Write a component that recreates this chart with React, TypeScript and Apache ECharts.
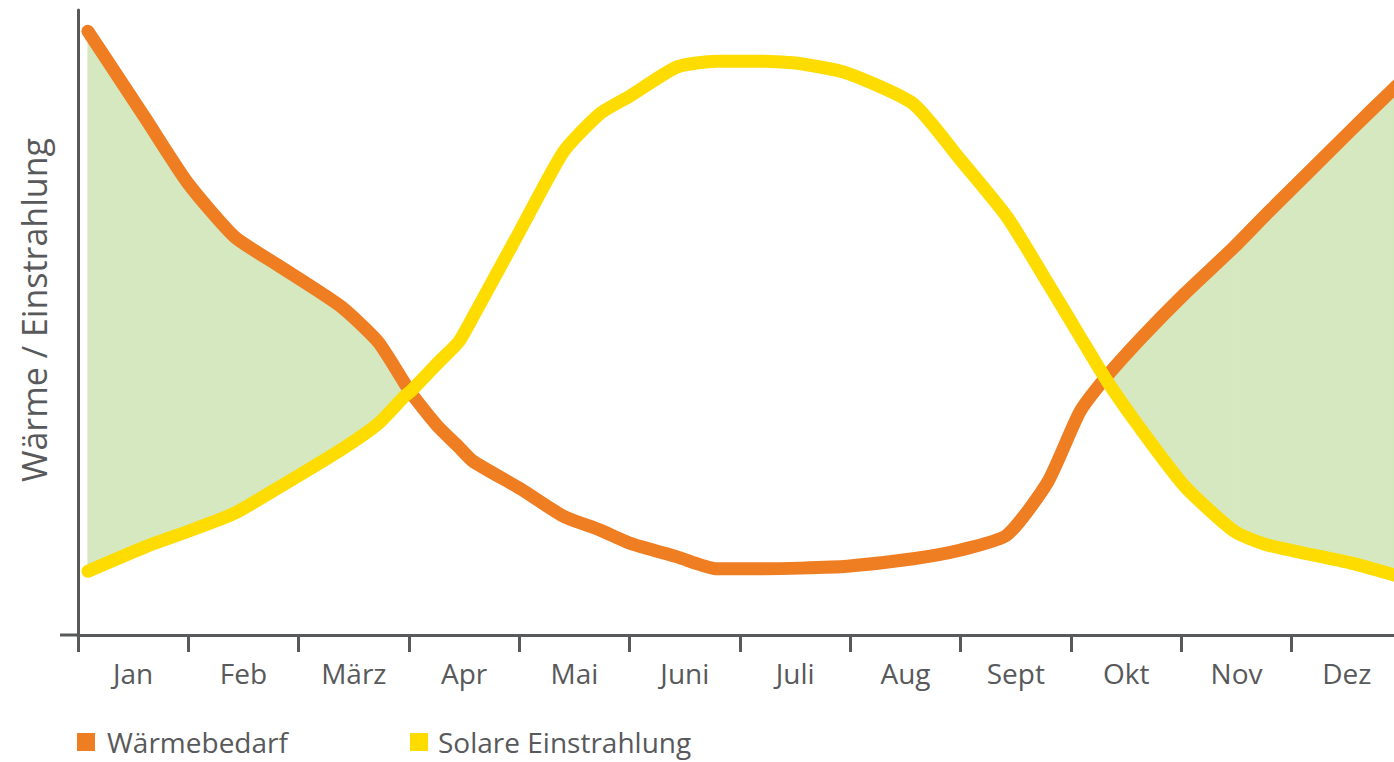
import React, { useEffect, useRef } from "react";
import * as echarts from "echarts";

const MONTHS = ["Jan", "Feb", "März", "Apr", "Mai", "Juni", "Juli", "Aug", "Sept", "Okt", "Nov", "Dez"];
const X_POS = [0.09, 0.61, 1.0, 1.42, 1.81, 2.38, 2.72, 2.96, 3.01, 3.26, 3.45, 3.58, 4.01, 4.4, 4.73, 5.0, 5.43, 5.79, 6.21, 6.55, 6.97, 7.57, 8.0, 8.42, 8.79, 9.08, 9.31, 9.63, 10.03, 10.48, 10.78, 11.54, 11.93, 12.0];
const WAERME = [96.6, 82.7, 72.2, 63.7, 59.2, 52.6, 46.9, 40.3, 38.9, 33.4, 30.1, 27.8, 23.4, 19.0, 16.8, 14.7, 12.5, 10.6, 10.6, 10.7, 11.0, 12.2, 13.6, 16.0, 24.5, 35.7, 41.1, 47.4, 54.6, 62.1, 67.5, 80.8, 87.5, 88.6];
const SOLAR = [10.2, 14.1, 16.6, 19.5, 23.5, 29.6, 33.8, 38.2, 38.9, 43.5, 46.9, 50.9, 64.8, 77.3, 83.4, 86.2, 90.9, 91.8, 91.8, 91.4, 89.9, 85.0, 76.0, 66.9, 56.3, 47.8, 41.1, 33.0, 23.8, 16.6, 14.4, 11.5, 9.6, 9.2];
const NAME_W = "Wärmebedarf";
const NAME_S = "Solare Einstrahlung";
const Y_TITLE = "Wärme / Einstrahlung";

const ORANGE = "#ef7d22";
const YELLOW = "#ffdc00";
const GREEN = "#d5e8bf";
const GRAY = "#58595b";
const FONT = "'Open Sans', 'Noto Sans', sans-serif";

export default function App() {
  const ref = useRef<HTMLDivElement>(null);
  useEffect(() => {
    if (!ref.current) return;
    const chart = echarts.init(ref.current, null, { renderer: "svg" });
    const wData = X_POS.map((x, i) => [x, WAERME[i]]);
    const sData = X_POS.map((x, i) => [x, SOLAR[i]]);
    const segs: number[][] = [];
    for (let i = 0; i < X_POS.length - 1; i++) {
      if (WAERME[i] >= SOLAR[i] && WAERME[i + 1] >= SOLAR[i + 1]) {
        segs.push([X_POS[i], WAERME[i], SOLAR[i], X_POS[i + 1], WAERME[i + 1], SOLAR[i + 1]]);
      }
    }
    const smooth = 0.2;
    chart.setOption({
      animation: false,
      textStyle: { fontFamily: FONT },
      grid: { left: 78, right: 0, top: 10, bottom: 127, containLabel: false },
      legend: [
        {
          data: [{ name: NAME_W, icon: "rect" }],
          left: 77,
          top: 728,
          padding: 0,
          itemWidth: 18,
          itemHeight: 18,
          textStyle: { fontSize: 28, color: GRAY, fontFamily: FONT, padding: [0, 0, 0, 7] },
          selectedMode: false,
        },
        {
          data: [{ name: NAME_S, icon: "rect" }],
          left: 410,
          top: 728,
          padding: 0,
          itemWidth: 18,
          itemHeight: 18,
          textStyle: { fontSize: 28, color: GRAY, fontFamily: FONT, padding: [0, 0, 0, 5] },
          selectedMode: false,
        },
      ],
      xAxis: [
        {
          type: "category",
          data: MONTHS,
          boundaryGap: true,
          axisLine: { show: true, lineStyle: { color: GRAY, width: 3 } },
          axisTick: { show: true, length: 17, lineStyle: { color: GRAY, width: 3 } },
          axisLabel: { fontSize: 28, color: GRAY, margin: 24, fontFamily: FONT },
          splitLine: { show: false },
        },
        {
          type: "value",
          min: 0,
          max: 12,
          show: false,
        },
      ],
      yAxis: {
        type: "value",
        min: 0,
        max: 100,
        axisLine: { show: true, lineStyle: { color: GRAY, width: 3 } },
        axisTick: { show: false },
        axisLabel: { show: false },
        splitLine: { show: false },
      },
      graphic: [
        {
          type: "line",
          shape: { x1: 60, y1: 635, x2: 80, y2: 635 },
          style: { stroke: GRAY, lineWidth: 3 },
        },
        {
          type: "text",
          x: 34,
          y: 310,
          rotation: Math.PI / 2,
          style: {
            text: Y_TITLE,
            fontSize: 34,
            fill: GRAY,
            fontFamily: FONT,
            align: "center",
            verticalAlign: "middle",
          },
        },
      ],
      series: [
        {
          name: "fill",
          type: "custom",
          xAxisIndex: 1,
          data: segs,
          encode: { x: [0, 3], y: [1, 2, 4, 5] },
          silent: true,
          clip: true,
          renderItem: (params: any, api: any) => {
            const a = api.coord([api.value(0), api.value(1)]);
            const b = api.coord([api.value(3), api.value(4)]);
            const c = api.coord([api.value(3), api.value(5)]);
            const d = api.coord([api.value(0), api.value(2)]);
            return {
              type: "polygon",
              shape: { points: [a, b, c, d] },
              style: { fill: GREEN, stroke: GREEN, lineWidth: 1 },
            };
          },
        },
        {
          name: NAME_W,
          type: "line",
          xAxisIndex: 1,
          data: wData,
          symbol: "none",
          smooth,
          color: ORANGE,
          lineStyle: { color: ORANGE, width: 13, cap: "round", join: "round" },
        },
        {
          name: NAME_S,
          type: "line",
          xAxisIndex: 1,
          data: sData,
          symbol: "none",
          smooth,
          color: YELLOW,
          lineStyle: { color: YELLOW, width: 13, cap: "round", join: "round" },
        },
      ],
    });
    return () => chart.dispose();
  }, []);
  return (
    <div style={{ position: "fixed", left: 0, top: 0, width: 1394, height: 762, overflow: "hidden", background: "#fff" }}>
      <div ref={ref} style={{ position: "absolute", left: 0, top: 0, width: 1402, height: 762 }} />
    </div>
  );
}
